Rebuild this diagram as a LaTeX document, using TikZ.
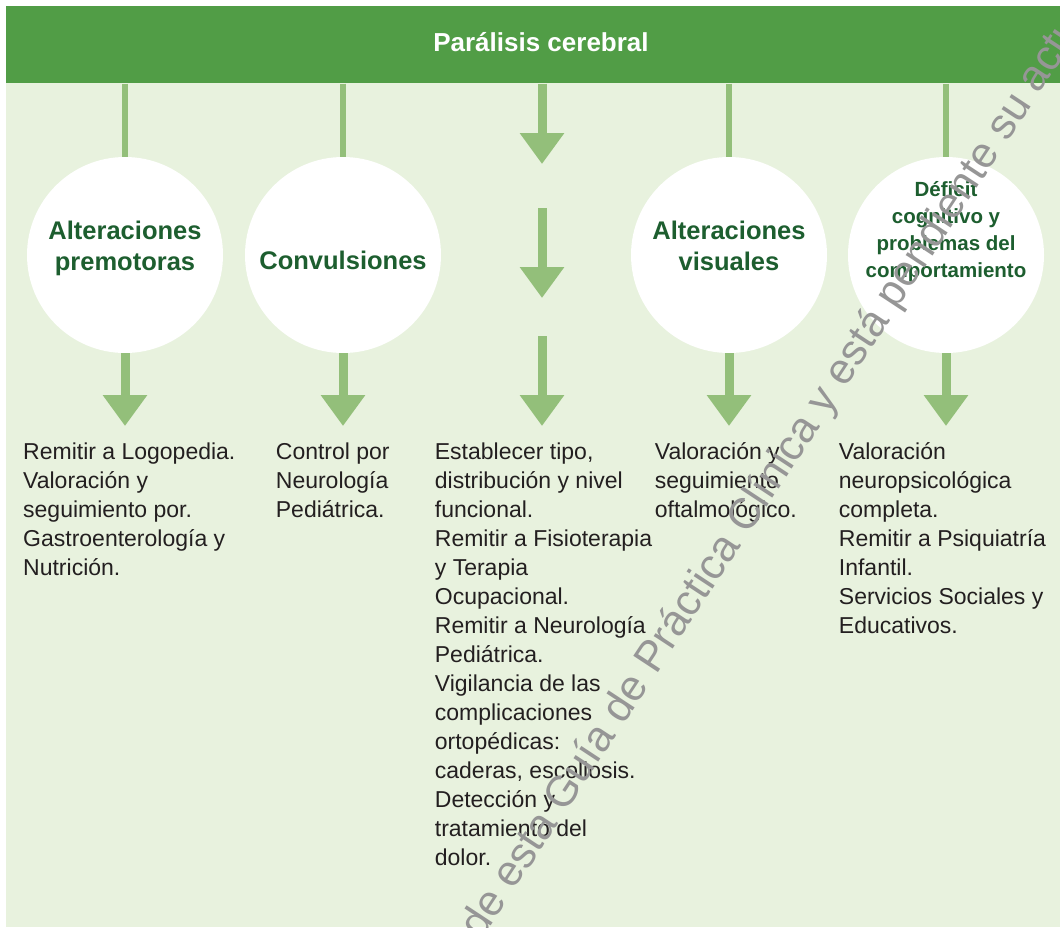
\documentclass[tikz,border=0pt]{standalone}
\usepackage{fontspec}
\setmainfont{Liberation Sans}
\usetikzlibrary{shapes.geometric, arrows.meta}
\definecolor{headgreen}{RGB}{81,157,70}
\definecolor{panelgreen}{RGB}{232,242,222}
\definecolor{linkgreen}{RGB}{147,191,122}
\definecolor{darkgreen}{RGB}{29,94,47}
\definecolor{textgray}{RGB}{35,31,32}
\definecolor{markgray}{RGB}{150,150,150}
\tikzstyle{titlebar} = [rectangle, 
minimum width=1070pt, 
minimum height=77.3pt,
inner sep=0pt,
text height=19pt, text depth=5pt,
fill=headgreen, 
text=white,
font=\fontsize{26}{30}\selectfont\bfseries]
\tikzstyle{bubble} = [circle, 
minimum size=196pt, 
inner sep=0pt, 
fill=white]
\tikzstyle{bubbletext} = [align=center, 
inner sep=0pt, 
anchor=base, 
text=darkgreen, 
font=\fontsize{25.5}{31}\selectfont\bfseries]
\tikzstyle{smalltext} = [bubbletext, 
font=\fontsize{20.5}{26.7}\selectfont\bfseries] % four lines
\tikzstyle{info} = [align=left, 
inner sep=0pt, 
anchor=north west, 
text=textgray, 
font=\fontsize{23}{29}\selectfont]
\tikzstyle{link} = [linkgreen, line width=6.5pt]
\tikzstyle{downarrow} = [linkgreen, line width=9pt, -{Triangle[width=42.6pt,length=31pt]}]
\tikzstyle{watermark} = [anchor=base west, 
rotate=56.6, 
inner sep=0pt, 
text=markgray, 
font=\fontsize{43}{50}\selectfont]

\begin{document}
\begin{tikzpicture}[x=1pt, y=-1pt]

\useasboundingbox (0,0) rectangle (1060,927);
\clip (0,0) rectangle (1060,927);
\fill [panelgreen] (6,83) rectangle (1060,927);

\node (header) [titlebar] at (541,44.65) {Parálisis cerebral};

\node (premot) [bubble] at (125,255) {};
\node (convul) [bubble] at (343,255) {};
\node (visual) [bubble] at (729,255) {};
\node (cognit) [bubble] at (946,255) {};

\node (premot_lbl) [bubbletext] at (125,270) {Alteraciones\\premotoras};
\node (convul_lbl) [bubbletext] at (343,269) {Convulsiones};
\node (visual_lbl) [bubbletext] at (729,270) {Alteraciones\\visuales};
\node (cognit_lbl) [smalltext] at (946,277) {Déficit\\cognitivo y\\problemas del\\comportamiento};

\node (premot_txt) [info] at (23,442.3) {Remitir a Logopedia.\\Valoración y\\seguimiento por.\\Gastroenterología y\\Nutrición.};
\node (convul_txt) [info] at (275.7,442.3) {Control por\\Neurología\\Pediátrica.};
\node (general_txt) [info] at (434.7,442.3) {Establecer tipo,\\distribución y nivel\\funcional.\\Remitir a Fisioterapia\\y Terapia\\Ocupacional.\\Remitir a Neurología\\Pediátrica.\\Vigilancia de las\\complicaciones\\ortopédicas:\\caderas, escoliosis.\\Detección y\\tratamiento del\\dolor.};
\node (visual_txt) [info] at (654.7,442.3) {Valoración y\\seguimiento\\oftalmológico.};
\node (cognit_txt) [info] at (838.7,442.3) {Valoración\\neuropsicológica\\completa.\\Remitir a Psiquiatría\\Infantil.\\Servicios Sociales y\\Educativos.};

\coordinate (mid_a) at (542,164);
\coordinate (mid_b) at (542,208);
\coordinate (mid_c) at (542,298);
\coordinate (mid_d) at (542,336);

\draw [link] (premot |- header.south) -- (premot);
\draw [link] (convul |- header.south) -- (convul);
\draw [link] (visual |- header.south) -- (visual);
\draw [link] (cognit |- header.south) -- (cognit);

\draw [downarrow, shorten >=16.3pt] (premot) -- (premot_txt.north -| premot);
\draw [downarrow, shorten >=16.3pt] (convul) -- (convul_txt.north -| convul);
\draw [downarrow, shorten >=16.3pt] (visual) -- (visual_txt.north -| visual);
\draw [downarrow, shorten >=16.3pt] (cognit) -- (cognit_txt.north -| cognit);

\draw [downarrow] (header.south -| mid_a) -- (mid_a);
\draw [downarrow] (mid_b) -- (mid_c);
\draw [downarrow, shorten >=16.3pt] (mid_d) -- (general_txt.north -| mid_d);

\node (stamp) [watermark] at (481,941) {de esta Guía de Práctica Clínica y está pendiente su actualización.};

\end{tikzpicture}
\end{document}
